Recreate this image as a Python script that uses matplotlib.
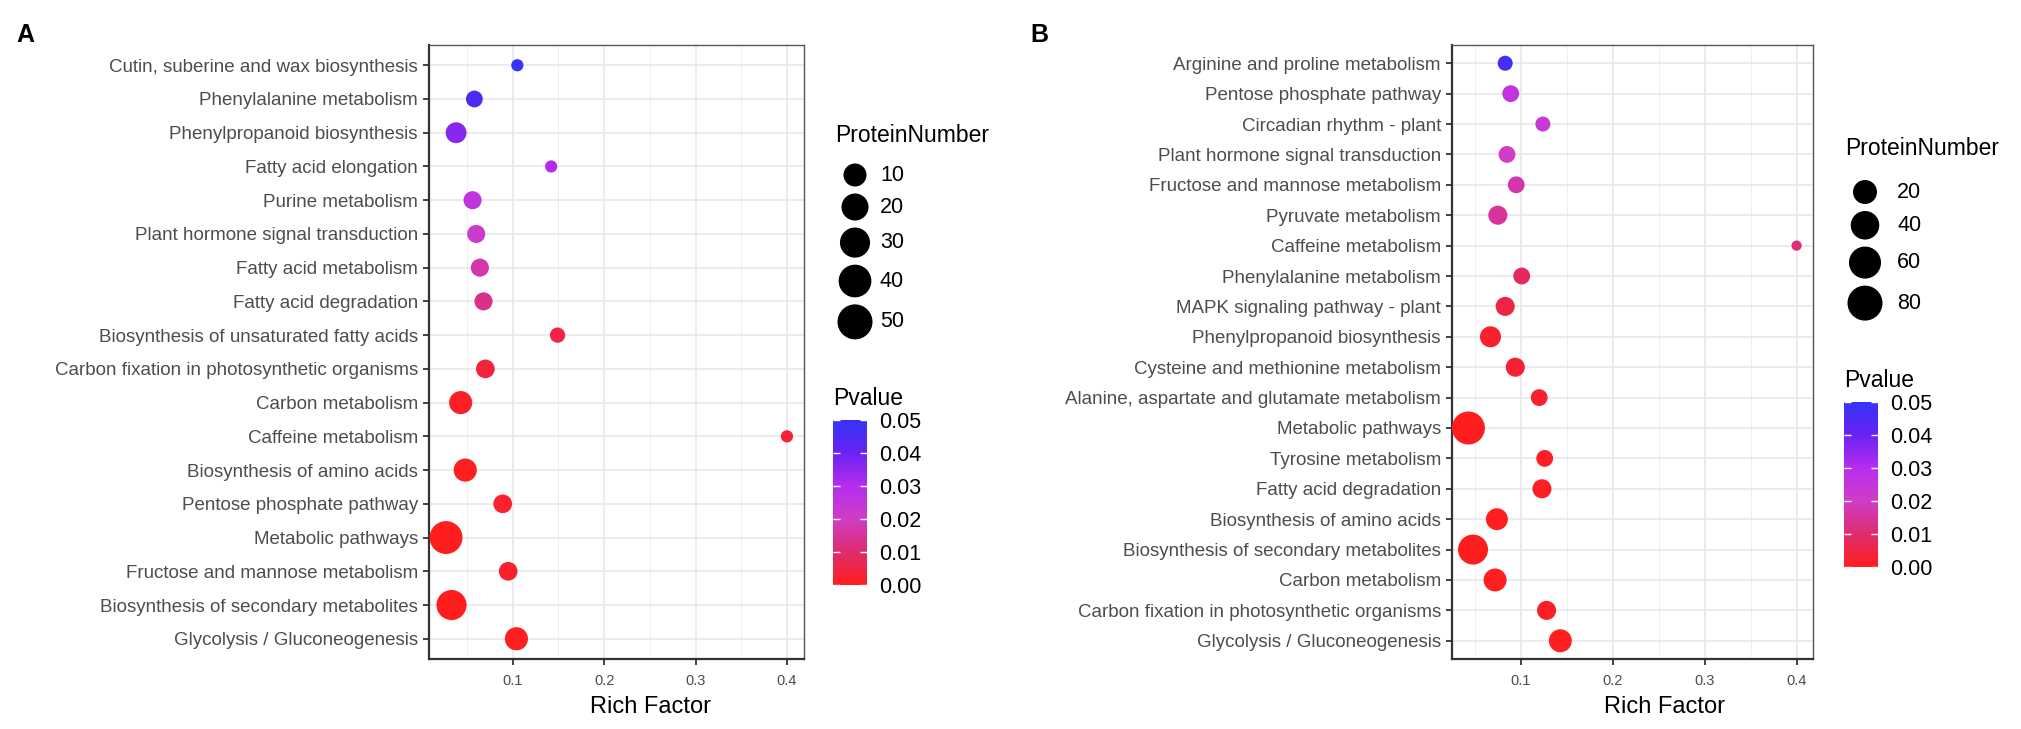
import numpy as np
import matplotlib
matplotlib.use("Agg")
import matplotlib.pyplot as plt
from matplotlib.colors import LinearSegmentedColormap, Normalize
from matplotlib.cm import ScalarMappable
from matplotlib.ticker import FormatStrFormatter

plt.rcParams['font.family'] = ['Liberation Sans', 'DejaVu Sans']

# ---- panel A data (top to bottom) ----
terms_a = [
    "Cutin, suberine and wax biosynthesis",
    "Phenylalanine metabolism",
    "Phenylpropanoid biosynthesis",
    "Fatty acid elongation",
    "Purine metabolism",
    "Plant hormone signal transduction",
    "Fatty acid metabolism",
    "Fatty acid degradation",
    "Biosynthesis of unsaturated fatty acids",
    "Carbon fixation in photosynthetic organisms",
    "Carbon metabolism",
    "Caffeine metabolism",
    "Biosynthesis of amino acids",
    "Pentose phosphate pathway",
    "Metabolic pathways",
    "Fructose and mannose metabolism",
    "Biosynthesis of secondary metabolites",
    "Glycolysis / Gluconeogenesis",
]
rich_a = [0.105, 0.058, 0.038, 0.142, 0.056, 0.060, 0.064, 0.068, 0.149,
          0.070, 0.043, 0.400, 0.048, 0.089, 0.027, 0.095, 0.033, 0.104]
count_a = [2, 7, 14, 2, 9, 9, 9, 9, 5, 10, 19, 2, 19, 10, 49, 10, 39, 19]
pval_a = [0.049, 0.045, 0.036, 0.031, 0.026, 0.021, 0.017, 0.013, 0.005,
          0.004, 0.001, 0.003, 0.0005, 0.002, 0.0, 0.002, 0.0, 0.0005]

# ---- panel B data (top to bottom) ----
terms_b = [
    "Arginine and proline metabolism",
    "Pentose phosphate pathway",
    "Circadian rhythm - plant",
    "Plant hormone signal transduction",
    "Fructose and mannose metabolism",
    "Pyruvate metabolism",
    "Caffeine metabolism",
    "Phenylalanine metabolism",
    "MAPK signaling pathway - plant",
    "Phenylpropanoid biosynthesis",
    "Cysteine and methionine metabolism",
    "Alanine, aspartate and glutamate metabolism",
    "Metabolic pathways",
    "Tyrosine metabolism",
    "Fatty acid degradation",
    "Biosynthesis of amino acids",
    "Biosynthesis of secondary metabolites",
    "Carbon metabolism",
    "Carbon fixation in photosynthetic organisms",
    "Glycolysis / Gluconeogenesis",
]
rich_b = [0.083, 0.089, 0.124, 0.085, 0.095, 0.075, 0.400, 0.101, 0.083, 0.067,
          0.094, 0.120, 0.043, 0.126, 0.123, 0.074, 0.048, 0.072, 0.128, 0.143]
count_b = [9, 13, 9, 13, 13, 19, 2, 13, 19, 25, 19, 13, 81, 13, 19, 28, 64, 32, 19, 32]
pval_b = [0.047, 0.026, 0.023, 0.020, 0.017, 0.015, 0.011, 0.008, 0.005, 0.002,
          0.003, 0.002, 0.0, 0.001, 0.001, 0.0005, 0.0, 0.0005, 0.001, 0.0005]

size_breaks_a = [10, 20, 30, 40, 50]
size_breaks_b = [20, 40, 60, 80]
p_ticks = [0.00, 0.01, 0.02, 0.03, 0.04, 0.05]

W, H, DPI = 2021, 729, 100
cmap = LinearSegmentedColormap.from_list(
    "pv", ["#FF1E1E", "#DE2C6E", "#D03CC6", "#B52EEE", "#6A22F2", "#3434F8"])
norm = Normalize(0.0, 0.05)

fig = plt.figure(figsize=(W / DPI, H / DPI), dpi=DPI)

# overlay in pixel units, used for the size legends
lay = fig.add_axes([0, 0, 1, 1], zorder=-1)
lay.set_xlim(0, W)
lay.set_ylim(H, 0)
lay.axis("off")


def px_to_pt(d):
    return d * 72.0 / DPI


# point diameters (px) for the panels, and legend key diameters
def diam_a(n):
    return 7 + 3.7 * np.sqrt(n)


def diam_b(n):
    return 6 + 3.0 * np.sqrt(n)


def key_a(n):
    return 13.3 + 3.07 * np.sqrt(n)


def key_b(n):
    return 13.0 + 2.46 * np.sqrt(n)


def draw_panel(left_px, right_px, terms, rich, count, pval, diam):
    ax = fig.add_axes([left_px / W, (H - 659) / H, (right_px - left_px) / W, 614 / H])
    y = np.arange(len(terms))[::-1]
    sizes = px_to_pt(diam(np.array(count))) ** 2
    ax.scatter(rich, y, s=sizes, c=pval, cmap=cmap, norm=norm,
               edgecolors="none", zorder=3)
    ax.set_yticks(y)
    ax.set_yticklabels(terms, fontsize=13.5, color="#4D4D4D")
    ax.set_ylim(-0.6, len(terms) - 0.4)
    lo, hi = min(rich), max(rich)
    pad = 0.05 * (hi - lo)
    ax.set_xlim(lo - pad, hi + pad)
    ax.set_xticks([0.1, 0.2, 0.3, 0.4])
    ax.set_xticks([0.05, 0.15, 0.25, 0.35], minor=True)
    ax.xaxis.set_major_formatter(FormatStrFormatter("%.1f"))
    ax.tick_params(axis="x", labelsize=10.5, labelcolor="#4D4D4D", pad=6)
    ax.tick_params(which="major", length=4.5, width=1.3, color="#333333")
    ax.tick_params(which="minor", length=0)
    ax.grid(which="major", color="#E8E8EE", lw=1.2)
    ax.grid(which="minor", axis="x", color="#EFEFF3", lw=0.7)
    ax.set_axisbelow(True)
    for side in ["top", "right"]:
        ax.spines[side].set_color("#555555")
        ax.spines[side].set_linewidth(1.0)
    for side in ["left", "bottom"]:
        ax.spines[side].set_color("#333333")
        ax.spines[side].set_linewidth(1.6)
    ax.set_xlabel("Rich Factor", fontsize=17, color="black", va="center")
    ax.xaxis.set_label_coords(0.59, -48 / 614)
    return ax


def size_legend(breaks, keyfn, title_x, title_y, key_x, label_x, first_y):
    d = keyfn(np.array(breaks, dtype=float))
    h = d + 7
    ys = first_y + np.concatenate([[0], np.cumsum((h[:-1] + h[1:]) / 2)])
    lay.scatter(np.full(len(breaks), key_x), ys, s=px_to_pt(d) ** 2,
                color="black", edgecolors="none")
    for yy, b in zip(ys, breaks):
        lay.text(label_x, yy, str(b), va="center", ha="left", fontsize=15.5)
    lay.text(title_x, title_y, "ProteinNumber", va="center", ha="left", fontsize=16.5)


def color_legend(x_px, top_px, bottom_px):
    cax = fig.add_axes([x_px / W, (H - bottom_px) / H, 34 / W, (bottom_px - top_px) / H])
    cb = fig.colorbar(ScalarMappable(norm=norm, cmap=cmap), cax=cax, ticks=p_ticks)
    cb.outline.set_visible(False)
    cb.ax.yaxis.set_major_formatter(FormatStrFormatter("%.2f"))
    cax.tick_params(direction="in", color="white", length=5, width=1,
                    labelsize=15.5, pad=9, left=True, right=True)
    cax.set_title("Pvalue", loc="left", fontsize=16.5, pad=11)


draw_panel(429, 804, terms_a, rich_a, count_a, pval_a, diam_a)
draw_panel(1452, 1813, terms_b, rich_b, count_b, pval_b, diam_b)

size_legend(size_breaks_a, key_a, 835, 135, 855, 880, 175)
size_legend(size_breaks_b, key_b, 1845, 148, 1865, 1897, 192)
color_legend(833, 420, 585)
color_legend(1844, 402, 567)

fig.text(16 / W, 1 - 42 / H, "A", fontsize=18, fontweight="bold", va="baseline")
fig.text(1030 / W, 1 - 42 / H, "B", fontsize=18, fontweight="bold", va="baseline")

fig.savefig("out.png", dpi=DPI)
